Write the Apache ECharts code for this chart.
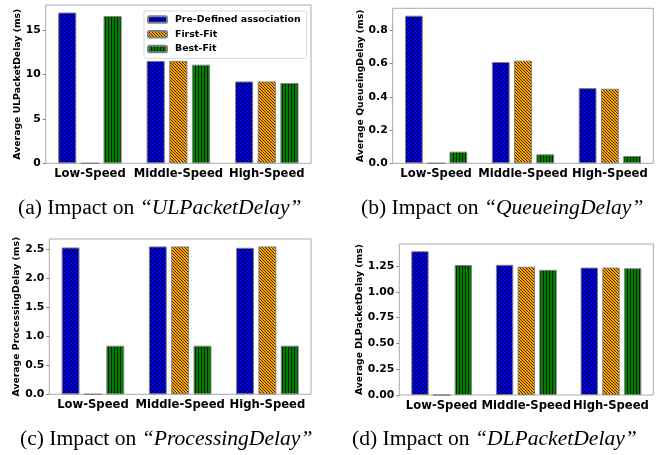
<!DOCTYPE html>
<html>
<head>
<meta charset="utf-8">
<script src="https://cdn.jsdelivr.net/npm/echarts@6/dist/echarts.min.js"></script>
<style>html,body{margin:0;padding:0;background:#fff}#c{width:662px;height:455px}</style>
</head>
<body>
<div id="c"></div>
<script>
var categories = ['Low-Speed', 'Middle-Speed', 'High-Speed'];
var seriesNames = ['Pre-Defined association', 'First-Fit', 'Best-Fit'];

var ulPre = [17.0, 11.55, 9.23];
var ulFirst = [0, 11.55, 9.23];
var ulBest = [16.6, 11.12, 9.05];

var qPre = [0.889, 0.610, 0.453];
var qFirst = [0, 0.618, 0.449];
var qBest = [0.070, 0.054, 0.044];

var pPre = [2.534, 2.552, 2.528];
var pFirst = [0, 2.552, 2.552];
var pBest = [0.838, 0.838, 0.838];

var dPre = [1.394, 1.262, 1.235];
var dFirst = [0, 1.243, 1.235];
var dBest = [1.260, 1.213, 1.229];

var ulTicks = [0, 5, 10, 15];
var qTicks = [0, 0.2, 0.4, 0.6, 0.8];
var pTicks = [0, 0.5, 1.0, 1.5, 2.0, 2.5];
var dTicks = [0, 0.25, 0.5, 0.75, 1.0, 1.25];

var yNames = ['Average ULPacketDelay (ms)', 'Average QueueingDelay (ms)', 'Average ProcessingDelay (ms)', 'Average DLPacketDelay (ms)'];
var captions = [
  ['(a) Impact on ', '“ULPacketDelay”'],
  ['(b) Impact on ', '“QueueingDelay”'],
  ['(c) Impact on ', '“ProcessingDelay”'],
  ['(d) Impact on ', '“DLPacketDelay”']
];

var panels = [
  {data: [ulPre, ulFirst, ulBest], ticks: ulTicks, max: 17.85, dec: 0},
  {data: [qPre, qFirst, qBest], ticks: qTicks, max: 0.9335, dec: 1},
  {data: [pPre, pFirst, pBest], ticks: pTicks, max: 2.68, dec: 1},
  {data: [dPre, dFirst, dBest], ticks: dTicks, max: 1.4637, dec: 2}
];

var grids = [
  {left: 45.7, top: 5, width: 265.3, height: 158.3, nameGap: 19},
  {left: 392.7, top: 8.3, width: 260.6, height: 155, nameGap: 25},
  {left: 49.3, top: 239, width: 261.7, height: 155.3, nameGap: 23},
  {left: 399.3, top: 244, width: 254, height: 151, nameGap: 31}
];
var capPos = [[18, 217], [361, 217], [20, 448], [352, 448]];

var FONT = '"DejaVu Sans", sans-serif';

function hatch(bg, kind, s, alpha, lw) {
  var c = document.createElement('canvas');
  c.width = s; c.height = s;
  var ctx = c.getContext('2d');
  ctx.fillStyle = bg;
  ctx.fillRect(0, 0, s, s);
  ctx.strokeStyle = 'rgba(0,0,0,' + alpha + ')';
  ctx.fillStyle = 'rgba(0,0,0,' + alpha + ')';
  ctx.lineWidth = lw;
  if (kind === '|') {
    ctx.fillRect(0, 0, 1, s);
  } else {
    ctx.beginPath();
    for (var k = -1; k <= 1; k++) {
      if (kind === '/') { ctx.moveTo(k * s, s); ctx.lineTo(k * s + s, 0); }
      else { ctx.moveTo(k * s, 0); ctx.lineTo(k * s + s, s); }
    }
    ctx.stroke();
  }
  return {image: c, repeat: 'repeat'};
}

var fills = [hatch('#0000ff', '/', 4, 0.85, 1.1), hatch('#ffa500', '\\', 3, 0.75, 1), hatch('#008000', '|', 3, 0.75, 1)];

var option = {
  animation: false,
  backgroundColor: '#fff',
  grid: [], xAxis: [], yAxis: [], series: [], graphic: [],
  legend: {
    data: seriesNames,
    orient: 'vertical',
    left: 144, top: 11,
    padding: [3, 6, 4, 3],
    itemWidth: 19, itemHeight: 6.5, itemGap: 3.7,
    borderColor: '#d8d8d8', borderWidth: 1, borderRadius: 2,
    backgroundColor: '#fff',
    textStyle: {fontFamily: FONT, fontWeight: 'bold', fontSize: 9.4, color: '#000', lineHeight: 11, padding: [0, 0, 0, 3]}
  }
};

panels.forEach(function (p, i) {
  var g = grids[i];
  option.grid.push({left: g.left, top: g.top, width: g.width, height: g.height, show: true,
    borderColor: '#aaaaaa', borderWidth: 1, backgroundColor: 'transparent'});
  option.xAxis.push({type: 'category', gridIndex: i, data: categories,
    axisLine: {show: false}, axisTick: {show: false},
    axisLabel: {interval: 0, hideOverlap: false, fontFamily: FONT, fontWeight: 'bold', fontSize: 11.6, color: '#000', margin: 5}});
  option.yAxis.push({type: 'value', gridIndex: i, min: 0, max: p.max,
    name: yNames[i], nameLocation: 'middle', nameRotate: 90, nameGap: g.nameGap,
    nameTextStyle: {fontFamily: FONT, fontWeight: 'bold', fontSize: 9.3, color: '#000'},
    axisLine: {show: false}, splitLine: {show: false},
    axisTick: {show: true, length: 3, customValues: p.ticks, lineStyle: {color: '#888'}},
    axisLabel: {customValues: p.ticks, fontFamily: FONT, fontWeight: 'bold', fontSize: 10.8, color: '#000', margin: 5,
      formatter: (function (d) { return function (v) { return Number(v).toFixed(d); }; })(p.dec)}});
  p.data.forEach(function (arr, k) {
    option.series.push({type: 'bar', name: seriesNames[k], xAxisIndex: i, yAxisIndex: i,
      data: arr, barWidth: '20.5%', barGap: '25%',
      itemStyle: {color: fills[k], borderColor: '#808080', borderWidth: 1}});
  });
  option.graphic.push({type: 'text', left: capPos[i][0], top: capPos[i][1] - 20,
    style: {text: captions[i][0] + '{i|' + captions[i][1] + '}',
      font: '21.6px "Liberation Serif"', fill: '#000',
      rich: {i: {fontStyle: 'italic', fontFamily: 'Liberation Serif', fontSize: 21.6, fill: '#000'}}}});
});

var chart = echarts.init(document.getElementById('c'), null, {renderer: 'canvas'});
chart.setOption(option);
</script>
</body>
</html>
